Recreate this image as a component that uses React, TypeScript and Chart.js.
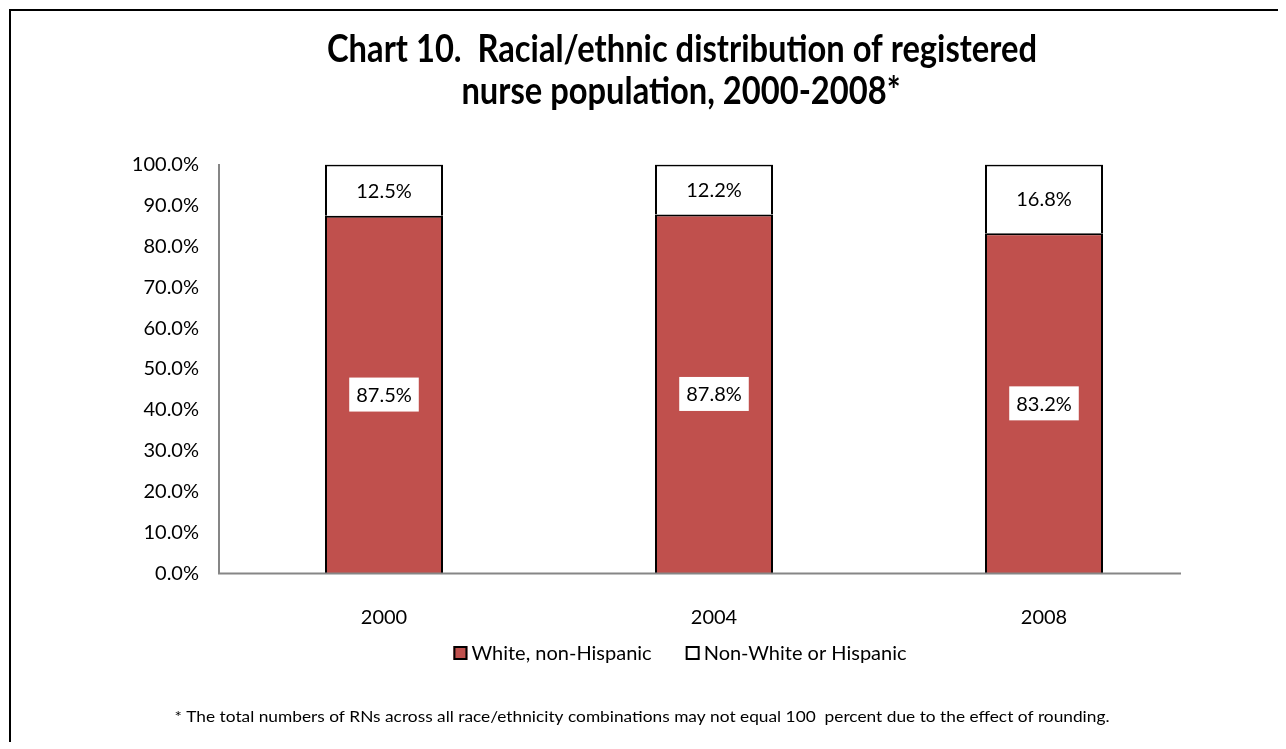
import React, { useEffect, useRef } from "react";
import { Chart, registerables } from "chart.js";

Chart.register(...registerables);

// ---- data ----
const categories = ["2000", "2004", "2008"];
const whiteNonHispanic = [87.5, 87.8, 83.2];
const nonWhiteOrHispanic = [12.5, 12.2, 16.8];
const seriesLabels = ["White, non-Hispanic", "Non-White or Hispanic"];
const seriesColors = ["#C0504D", "#FFFFFF"];
const titleLines = [
  "Chart 10.  Racial/ethnic distribution of registered",
  "nurse population, 2000-2008*",
];
const footnote =
  "* The total numbers of RNs across all race/ethnicity combinations may not equal 100  percent due to the effect of rounding.";

// ---- style ----
const FONT = "Lato, 'Noto Sans', sans-serif";
const AXIS = "#868686";
const CANVAS_W = 1265;
const CANVAS_H = 727;

function fittedText(ctx: any, text: string, cx: number, cy: number, sx: number) {
  ctx.save();
  ctx.translate(cx, cy);
  ctx.scale(sx, 1);
  ctx.fillText(text, 0, 0);
  ctx.restore();
}

const overlayPlugin = {
  id: "overlay",
  afterDatasetsDraw(chart: any) {
    const { ctx, chartArea: ca } = chart;
    ctx.save();
    // category axis line
    ctx.strokeStyle = AXIS;
    ctx.lineWidth = 2;
    ctx.beginPath();
    ctx.moveTo(ca.left - 1, ca.bottom);
    ctx.lineTo(ca.right - 28, ca.bottom);
    ctx.stroke();

    // data labels
    ctx.font = `20px ${FONT}`;
    ctx.textAlign = "center";
    ctx.textBaseline = "middle";
    chart.data.datasets.forEach((ds: any, di: number) => {
      const meta = chart.getDatasetMeta(di);
      meta.data.forEach((bar: any, i: number) => {
        const v = ds.data[i] as number;
        const txt = v.toFixed(1) + "%";
        const cy = (bar.y + bar.base) / 2;
        const w = ctx.measureText(txt).width + 14;
        const h = 34;
        ctx.fillStyle = "#FFFFFF";
        ctx.fillRect(bar.x - w / 2, cy - h / 2, w, h);
        ctx.fillStyle = "#000000";
        ctx.fillText(txt, bar.x, cy + 1);
      });
    });
    ctx.restore();
  },
  afterDraw(chart: any) {
    const { ctx } = chart;
    ctx.save();
    ctx.fillStyle = "#000000";
    ctx.textAlign = "center";
    ctx.textBaseline = "middle";

    // title (condensed to mimic the original narrow bold face)
    ctx.font = `bold 38px ${FONT}`;
    const w0 = ctx.measureText(titleLines[0]).width;
    const tsx = 710 / w0;
    fittedText(ctx, titleLines[0], 671, 39, tsx);
    fittedText(ctx, titleLines[1], 670, 81, tsx);

    // legend
    ctx.font = `20px ${FONT}`;
    ctx.textAlign = "left";
    const box = 14;
    const gap = 4;
    const itemGap = 34;
    const widths = seriesLabels.map((l) => ctx.measureText(l).width);
    const total =
      widths.reduce((a, b) => a + b, 0) + seriesLabels.length * (box + gap) + itemGap;
    let x = 669 - total / 2;
    const ly = 642;
    seriesLabels.forEach((label, i) => {
      ctx.fillStyle = seriesColors[i];
      ctx.fillRect(x, ly - box / 2, box, box);
      ctx.strokeStyle = "#000000";
      ctx.lineWidth = 2;
      ctx.strokeRect(x + 1, ly - box / 2 + 1, box - 2, box - 2);
      ctx.fillStyle = "#000000";
      ctx.fillText(label, x + box + gap, ly + 1);
      x += box + gap + widths[i] + itemGap;
    });

    // footnote
    ctx.textAlign = "center";
    ctx.font = `16px ${FONT}`;
    const fw = ctx.measureText(footnote).width;
    fittedText(ctx, footnote, 631, 706, 935 / fw);
    ctx.restore();
  },
};

export default function App() {
  const canvasRef = useRef<HTMLCanvasElement | null>(null);

  useEffect(() => {
    const canvas = canvasRef.current;
    if (!canvas) return;
    const chart = new Chart(canvas, {
      type: "bar",
      data: {
        labels: categories,
        datasets: [
          {
            label: seriesLabels[0],
            data: whiteNonHispanic,
            backgroundColor: seriesColors[0],
            borderColor: "#000000",
            borderWidth: 2,
          },
          {
            label: seriesLabels[1],
            data: nonWhiteOrHispanic,
            backgroundColor: seriesColors[1],
            borderColor: "#000000",
            borderWidth: 2,
          },
        ],
      },
      options: {
        responsive: false,
        animation: false,
        devicePixelRatio: 1,
        datasets: {
          bar: { barPercentage: 0.3576, categoryPercentage: 1 },
        },
        layout: { padding: { left: 0, right: 67, top: 153.5, bottom: 104.5 } },
        plugins: {
          legend: { display: false },
          title: { display: false },
          tooltip: { enabled: false },
        },
        scales: {
          x: {
            stacked: true,
            grid: { display: false },
            border: { display: false },
            ticks: { font: { family: FONT, size: 20 }, color: "#000000", padding: 24 },
            afterFit: (s: any) => {
              s.height = 60;
            },
          },
          y: {
            stacked: true,
            min: 0,
            max: 100,
            grid: { display: false, drawTicks: false },
            border: { display: true, color: AXIS, width: 2 },
            ticks: {
              stepSize: 10,
              padding: 20,
              color: "#000000",
              font: { family: FONT, size: 20 },
              callback: (v: any) => Number(v).toFixed(1) + "%",
            },
            afterFit: (s: any) => {
              s.width = 208;
            },
          },
        },
      },
      plugins: [overlayPlugin],
    });
    return () => chart.destroy();
  }, []);

  return (
    <div
      style={{
        position: "relative",
        width: 1268,
        height: 731,
        marginLeft: 1,
        marginTop: 1,
        borderTop: "2px solid #000",
        borderLeft: "2px solid #000",
        background: "#fff",
      }}
    >
      <canvas
        ref={canvasRef}
        width={CANVAS_W}
        height={CANVAS_H}
        style={{ display: "block", width: CANVAS_W, height: CANVAS_H }}
      />
    </div>
  );
}
